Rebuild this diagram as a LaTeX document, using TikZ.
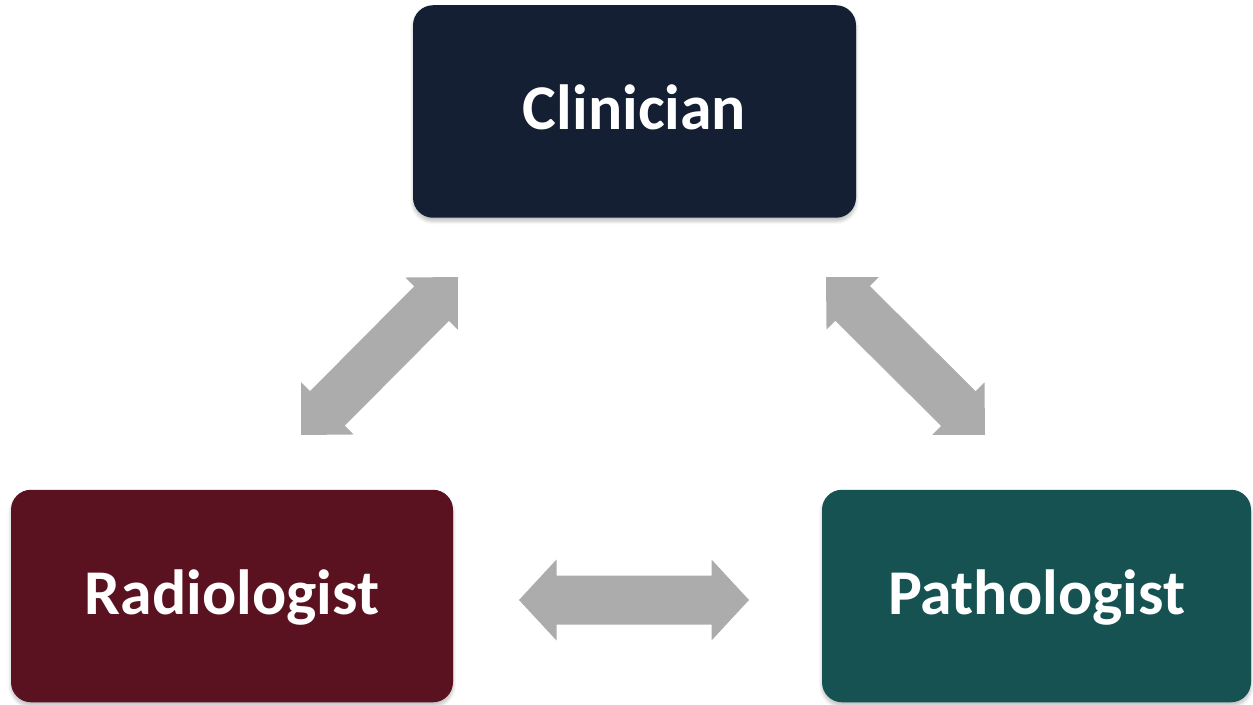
\documentclass[tikz,border=0pt]{standalone}
\usepackage{fontspec}
\setmainfont{Carlito}
\usetikzlibrary{calc,shadows.blur}

\definecolor{clinnavy}{HTML}{141F33}
\definecolor{radiored}{HTML}{5A1220}
\definecolor{pathteal}{HTML}{175253}
\definecolor{linkgrey}{HTML}{ADACAD}

\tikzset{
	rolebox/.style={rounded corners=0.4cm, minimum height=4.25cm, inner sep=0pt,
		text=white, font=\fontsize{36.3}{44}\selectfont\bfseries,
		text height=0.72cm, text depth=0pt,
		blur shadow={shadow xshift=0pt, shadow yshift=-0.07cm, shadow blur steps=6, shadow opacity=25}}
}
% block arrow with two heads: [head half width](from)(to)
\def\linkarrow[#1](#2)(#3){
	\coordinate (#2-h) at ($(#2)!0.75cm!(#3)$);
	\coordinate (#3-h) at ($(#3)!0.75cm!(#2)$);
	\fill[linkgrey] (#2) -- ($(#2-h)!#1!-90:(#3)$) -- ($(#2-h)!0.49cm!-90:(#3)$)
		-- ($(#3-h)!0.49cm!90:(#2)$) -- ($(#3-h)!#1!90:(#2)$) -- (#3)
		-- ($(#3-h)!#1!-90:(#2)$) -- ($(#3-h)!0.49cm!-90:(#2)$)
		-- ($(#2-h)!0.49cm!90:(#3)$) -- ($(#2-h)!#1!90:(#3)$) -- cycle;
}

\begin{document}
\begin{tikzpicture}
			%%%%% START %%%%%
			\useasboundingbox (0, 0) rectangle (25.06, 14.08);
			
			\node[rolebox, fill=clinnavy, minimum width=8.86cm] (clinician) at (12.69, 11.85) {Clinician};
			\node[rolebox, fill=radiored, minimum width=8.84cm] (radiologist) at (4.64, 2.16) {Radiologist};
			\node[rolebox, fill=pathteal, minimum width=8.58cm] (pathologist) at (20.73, 2.16) {Pathologist};
			
			% arrow ends
			\coordinate (radup) at (6.02, 5.38);
			\coordinate (clinleft) at (9.16, 8.54);
			\coordinate (clinright) at (16.52, 8.54);
			\coordinate (pathup) at (19.70, 5.38);
			\coordinate (radright) at (10.38, 2.08);
			\coordinate (pathleft) at (14.98, 2.08);
			
			\linkarrow[0.74cm](radup)(clinleft)
			\linkarrow[0.74cm](clinright)(pathup)
			\linkarrow[0.81cm](radright)(pathleft)
			
			%%%%% END %%%%%
\end{tikzpicture}
\end{document}
